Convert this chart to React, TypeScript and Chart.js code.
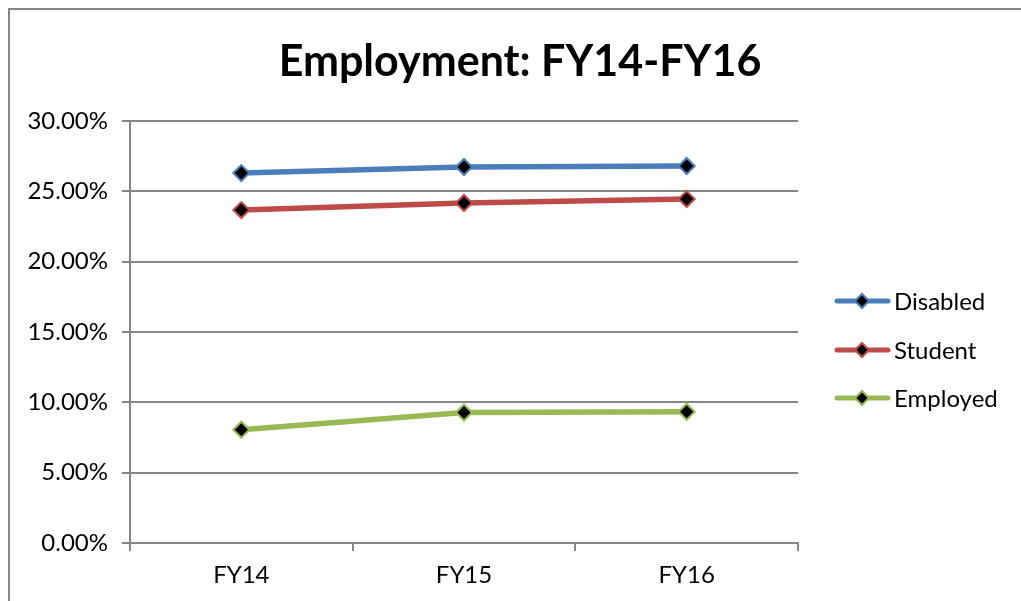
import React, { useEffect, useRef } from "react";
import { Chart, registerables } from "chart.js";

Chart.register(...registerables);

const categories = ["FY14", "FY15", "FY16"];
const disabled = [26.3, 26.73, 26.8];
const student = [23.67, 24.17, 24.45];
const employed = [8.05, 9.28, 9.33];
const seriesNames = ["Disabled", "Student", "Employed"];
const seriesColors = ["#4A7EBB", "#BE4B48", "#98B954"];
const titleText = "Employment: FY14-FY16";
const yMin = 0;
const yMax = 30;
const yStep = 5;

const FONT = "Lato, 'Open Sans', sans-serif";
const GRID = "#868686";

const decorPlugin = {
  id: "decor",
  beforeDraw(chart: any) {
    const ctx = chart.ctx;
    ctx.save();
    ctx.fillStyle = "#ffffff";
    ctx.fillRect(0, 0, chart.width, chart.height);
    ctx.strokeStyle = GRID;
    ctx.lineWidth = 2;
    ctx.beginPath();
    ctx.moveTo(1, chart.height);
    ctx.lineTo(1, 1);
    ctx.lineTo(chart.width, 1);
    ctx.stroke();
    ctx.restore();
  },
  afterDraw(chart: any) {
    const ctx = chart.ctx;
    ctx.save();
    // title
    ctx.fillStyle = "#000000";
    ctx.font = `bold 43px ${FONT}`;
    ctx.textAlign = "center";
    ctx.textBaseline = "middle";
    ctx.fillText(titleText, 512, 54);
    // legend
    const ys = [293, 342, 390];
    chart.data.datasets.forEach((ds: any, i: number) => {
      const y = ys[i];
      ctx.strokeStyle = ds.borderColor;
      ctx.lineWidth = 5;
      ctx.lineCap = "round";
      ctx.beginPath();
      ctx.moveTo(829, y);
      ctx.lineTo(880, y);
      ctx.stroke();
      const r = 7;
      const cx = 854;
      ctx.beginPath();
      ctx.moveTo(cx, y - r);
      ctx.lineTo(cx + r, y);
      ctx.lineTo(cx, y + r);
      ctx.lineTo(cx - r, y);
      ctx.closePath();
      ctx.fillStyle = "#000000";
      ctx.fill();
      ctx.lineWidth = 2;
      ctx.strokeStyle = ds.borderColor;
      ctx.stroke();
      ctx.fillStyle = "#000000";
      ctx.font = `24px ${FONT}`;
      ctx.textAlign = "left";
      ctx.textBaseline = "middle";
      ctx.fillText(ds.label, 886, y + 1);
    });
    ctx.restore();
  },
};

export default function App() {
  const ref = useRef<HTMLCanvasElement | null>(null);
  useEffect(() => {
    if (!ref.current) return;
    const values = [disabled, student, employed];
    const chart = new Chart(ref.current, {
      type: "line",
      data: {
        labels: categories,
        datasets: values.map((v, i) => ({
          label: seriesNames[i],
          data: v,
          borderColor: seriesColors[i],
          backgroundColor: "#000000",
          borderWidth: 5.5,
          pointStyle: "rectRot",
          pointRadius: 8,
          pointBorderWidth: 2,
          pointBorderColor: seriesColors[i],
          pointBackgroundColor: "#000000",
          tension: 0,
        })),
      },
      options: {
        animation: false,
        responsive: false,
        maintainAspectRatio: false,
        devicePixelRatio: 1,
        layout: { padding: { left: 0, top: 113, right: 223, bottom: 0 } },
        plugins: {
          legend: { display: false },
          title: { display: false },
          tooltip: { enabled: false },
        },
        scales: {
          x: {
            type: "category",
            offset: true,
            grid: {
              offset: true,
              drawOnChartArea: false,
              drawTicks: true,
              tickLength: 8,
              color: GRID,
              lineWidth: 2,
            },
            border: { color: GRID, width: 2 },
            ticks: {
              color: "#000000",
              font: { family: FONT, size: 24 },
              padding: 10,
            },
            afterFit(scale: any) {
              scale.height = 58;
            },
          },
          y: {
            min: yMin,
            max: yMax,
            grid: {
              color: GRID,
              lineWidth: 2,
              tickLength: 8,
            },
            border: { color: GRID, width: 2 },
            ticks: {
              stepSize: yStep,
              color: "#000000",
              font: { family: FONT, size: 24 },
              padding: 14,
              callback: (v: any) => Number(v).toFixed(2) + "%",
            },
            afterFit(scale: any) {
              scale.width = 122;
            },
          },
        },
      },
      plugins: [decorPlugin],
    } as any);
    return () => chart.destroy();
  }, []);
  return (
    <div style={{ position: "fixed", left: 8, top: 8, width: 1013, height: 593, overflow: "hidden" }}>
      <canvas ref={ref} width={1013} height={593} style={{ display: "block", width: 1013, height: 593 }} />
    </div>
  );
}
